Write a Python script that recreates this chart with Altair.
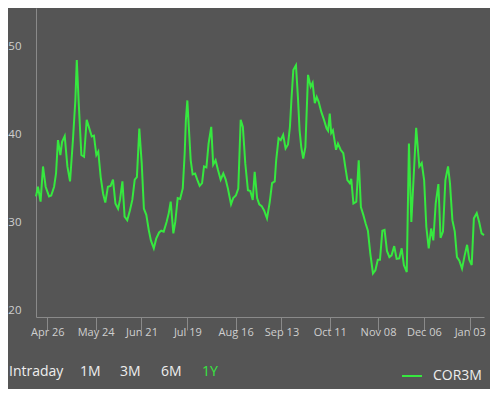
import altair as alt
import pandas as pd

# trading-day offset (0 = Apr 19, 2021) and COR3M value
days = [0.3, 1.1, 2.2, 3.2, 4.3, 5.7, 6.6, 7.8, 8.6, 9.4, 10.4, 11.1, 12.2, 13.3, 14.4, 15.6, 16.6, 17.2, 18.0,
        19.1, 20.2, 21.3, 22.4, 23.4, 24.3, 25.3, 26.1, 27.1, 28.1, 29.0, 30.1, 31.2, 32.2, 33.2, 34.3, 35.1,
        36.1, 37.0, 38.1, 39.2, 40.2, 41.2, 42.1, 43.1, 44.1, 45.0, 46.0, 47.0, 47.9, 49.1, 50.1, 51.3, 52.2,
        53.2, 54.4, 55.3, 56.1, 57.2, 58.0, 59.0, 60.0, 61.1, 61.9, 62.4, 63.0, 63.6, 64.4, 65.2, 66.2, 67.1,
        68.1, 69.1, 69.9, 70.9, 71.8, 72.9, 73.7, 74.7, 75.7, 76.8, 77.9, 78.9, 79.8, 81.1, 82.0, 83.1, 84.1,
        85.1, 86.0, 87.0, 88.1, 89.1, 90.1, 90.9, 91.9, 92.8, 93.8, 94.8, 96.0, 97.1, 98.1, 99.2, 99.8, 100.8,
        101.7, 102.7, 103.7, 104.7, 105.5, 106.1, 106.9, 108.0, 108.8, 109.5, 110.2, 111.0, 111.9, 113.0,
        113.5, 114.1, 114.9, 115.8, 116.6, 117.4, 118.5, 119.6, 120.7, 121.3, 122.0, 122.6, 123.3, 124.6,
        125.4, 126.5, 127.6, 128.4, 129.3, 130.3, 130.9, 131.8, 133.0, 134.0, 134.9, 135.9, 136.9, 137.8,
        138.8, 139.9, 140.9, 141.9, 142.8, 143.8, 144.7, 145.7, 146.7, 147.6, 148.7, 149.7, 150.8, 151.8,
        152.7, 153.9, 154.8, 155.8, 157.8, 159.1, 160.1, 161.1, 162.0, 163.0, 164.0, 164.9, 165.9, 167.0,
        167.9, 168.9, 169.9, 171.0, 171.8, 172.8, 173.8, 174.7, 175.7, 176.8, 177.9, 178.9, 179.8, 180.8,
        181.7, 182.9, 183.9, 184.9, 185.9]
values = [33.0, 34.1, 32.4, 36.4, 34.1, 33.0, 33.1, 34.1, 35.6, 39.4, 37.7, 39.2, 39.85, 36.4, 34.7, 39.4, 43.9,
          48.5, 43.6, 37.7, 37.5, 41.7, 40.7, 39.8, 39.9, 37.7, 38.1, 35.2, 33.3, 32.3, 34.1, 34.2, 34.9, 32.2,
          31.6, 32.6, 34.7, 30.7, 30.3, 31.4, 32.6, 34.9, 35.2, 40.7, 36.75, 31.6, 30.9, 29.2, 28.0, 27.1, 28.2,
          28.9, 29.1, 29.0, 30.1, 31.1, 32.4, 28.8, 30.1, 32.8, 32.7, 33.9, 37.9, 41.7, 43.9, 40.9, 37.1, 35.5,
          35.6, 34.9, 34.2, 34.5, 36.4, 36.3, 39.0, 40.9, 36.6, 37.1, 36.0, 34.9, 35.6, 34.9, 33.9, 32.1, 32.8,
          33.1, 33.9, 41.7, 40.9, 36.75, 33.7, 33.6, 32.6, 35.8, 32.8, 32.1, 31.9, 31.4, 30.5, 32.3, 34.5, 34.7,
          37.1, 39.6, 39.4, 40.0, 38.45, 38.9, 40.9, 43.9, 47.35, 47.9, 44.3, 40.5, 38.6, 37.3, 38.6, 46.8, 46.2,
          45.45, 45.9, 43.6, 44.3, 43.75, 42.6, 41.7, 40.7, 40.45, 42.4, 40.2, 40.5, 38.3, 39.0, 38.3, 37.9,
          36.4, 34.85, 34.5, 35.0, 32.2, 32.4, 37.1, 31.8, 30.9, 29.9, 29.1, 26.5, 24.25, 24.6, 25.8, 25.8, 29.1,
          29.2, 26.8, 26.1, 26.3, 27.35, 25.9, 25.95, 27.1, 25.2, 24.4, 39.0, 30.1, 40.8, 36.4, 36.8, 34.85,
          29.55, 27.1, 29.35, 28.0, 32.2, 34.4, 28.3, 29.0, 34.85, 36.4, 34.5, 30.3, 29.0, 26.1, 25.7, 24.8,
          26.3, 27.5, 25.8, 25.2, 30.5, 31.1, 30.1, 28.8, 28.6]

tick_days = [5, 25, 44, 63, 83, 102, 122, 142, 161, 180]
tick_labels = ["Apr 26", "May 24", "Jun 21", "Jul 19", "Aug 16", "Sep 13", "Oct 11", "Nov 08", "Dec 06", "Jan 03"]
y_ticks = [20, 30, 40, 50]
series_name = "COR3M"
buttons = ["Intraday", "1M", "3M", "6M", "1Y"]

GREEN = "#36e83f"
BG = "#555555"
AXIS = "#8a8a8a"
LABEL = "#cfcfcf"
FONT = "Open Sans"

df = pd.DataFrame({"day": days, "value": values, "series": series_name})

label_expr = " : ".join(
    f"datum.value == {d} ? '{l}'" for d, l in zip(tick_days, tick_labels)
) + " : ''"

line = alt.Chart(df).mark_line(strokeWidth=2).encode(
    x=alt.X("day:Q",
            scale=alt.Scale(domain=[0.3, 185.9], nice=False, zero=False),
            axis=alt.Axis(values=tick_days, labelExpr=label_expr, title=None, grid=False,
                          domainColor=AXIS, tickColor=AXIS, tickSize=13, labelPadding=-4,
                          labelColor=LABEL, labelFont=FONT, labelFontSize=11)),
    y=alt.Y("value:Q",
            scale=alt.Scale(domain=[19.3, 54.4], nice=False, zero=False),
            axis=alt.Axis(values=y_ticks, title=None, grid=False, tickSize=0, labelPadding=15,
                          domainColor=AXIS, labelColor=LABEL, labelFont=FONT, labelFontSize=11.5)),
    color=alt.Color("series:N",
                    scale=alt.Scale(domain=[series_name], range=[GREEN]),
                    legend=alt.Legend(orient="none", legendX=365, legendY=357, title=None,
                                      symbolType="stroke", symbolStrokeWidth=2, symbolSize=400,
                                      labelFontSize=14, labelColor="#eeeeee", labelFont=FONT,
                                      labelOffset=10, padding=0)),
)

button_x = [-27, 44, 84, 125, 166]
layers = [line]
for b, bx in zip(buttons, button_x):
    layers.append(
        alt.Chart(pd.DataFrame({"t": [b]})).mark_text(
            align="left", baseline="middle", font=FONT, fontSize=14,
            color=GREEN if b == "1Y" else "#eeeeee"
        ).encode(x=alt.value(bx), y=alt.value(364), text="t:N")
    )

chart = alt.layer(*layers).properties(
    width=448, height=309,
    autosize=alt.AutoSizeParams(type="none"),
    padding={"left": 28, "top": 0, "right": 6, "bottom": 72},
    background=BG,
).configure_view(stroke=None)

chart.save("out.html", embed_options={"renderer": "svg", "actions": False})
